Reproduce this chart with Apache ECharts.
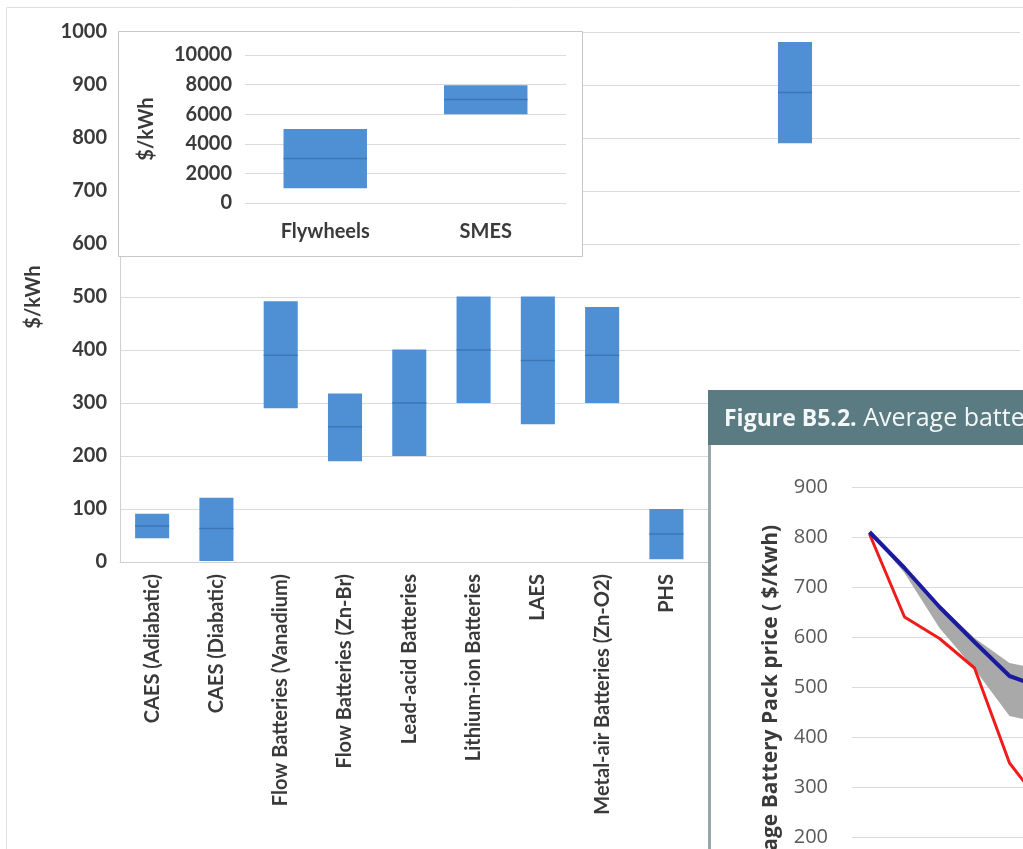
<!DOCTYPE html>
<html>
<head>
<meta charset="utf-8">
<title>Storage cost ranges</title>
<script src="https://cdn.jsdelivr.net/npm/echarts@6/dist/echarts.min.js"></script>
<style>
  html, body { margin: 0; padding: 0; background: #fff; }
  #chart { width: 1023px; height: 849px; }
</style>
</head>
<body>
<div id="chart"></div>
<script>
// main chart: capital cost ranges ($/kWh), last slots are hidden behind the overlaid figure
const storageTypes = [
  'CAES (Adiabatic)', 'CAES (Diabatic)', 'Flow Batteries (Vanadium)', 'Flow Batteries (Zn-Br)',
  'Lead-acid Batteries', 'Lithium-ion Batteries', 'LAES', 'Metal-air Batteries (Zn-O2)', 'PHS',
  '', '', '', '', ''
]
const costLow = [45, 2, 290, 190, 200, 300, 260, 300, 5, null, 790, null, null, null]
const costHigh = [91, 121, 492, 318, 401, 501, 501, 481, 100, null, 981, null, null, null]
const costMid = [68, 63, 390, 255, 300, 400, 380, 390, 53, null, 886, null, null, null]
const costTicks = [0, 100, 200, 300, 400, 500, 600, 700, 800, 900, 1000]

// inset
const insetTypes = ['Flywheels', 'SMES']
const insetLow = [1000, 6000]
const insetHigh = [5000, 7950]
const insetMid = [3000, 7000]
const insetTicks = [0, 2000, 4000, 6000, 8000, 10000]

// Figure B5.2 (partly visible)
const years = ['2010', '2011', '2012', '2013', '2014', '2015']
const packPrice = [810, 738, 660, 590, 522, 497]
const packActual = [806, 640, 597, 538, 348, 258]
const bandLow = [810, 728, 618, 536, 442, 426]
const bandHigh = [810, 738, 664, 598, 548, 534]
const priceTicks = [0, 100, 200, 300, 400, 500, 600, 700, 800, 900]

const barColor = '#4f90d5'
const midColor = '#3c77b5'
const textColor = '#3a3a3a'

function rangeBar(ratio) {
  return function(params, api) {
    const idx = api.value(0)
    const top = api.coord([idx, api.value(2)])
    const bottom = api.coord([idx, api.value(1)])
    const mid = api.coord([idx, api.value(3)])
    const w = api.size([1, 0])[0] * ratio
    return {
      type: 'group',
      children: [{
        type: 'rect',
        shape: { x: top[0] - w / 2, y: top[1], width: w, height: bottom[1] - top[1] },
        style: { fill: barColor }
      }, {
        type: 'line',
        shape: { x1: top[0] - w / 2, y1: mid[1], x2: top[0] + w / 2, y2: mid[1] },
        style: { stroke: midColor, lineWidth: 1.5 }
      }]
    }
  }
}

function rangeData(low, high, mid) {
  const out = []
  low.forEach((v, i) => {
    if (v !== null) out.push([i, v, high[i], mid[i]])
  })
  return out
}

const plain = v => String(v)
const labelFont = { fontFamily: 'Lato', fontWeight: 'bold', fontSize: 20, color: textColor }
const panelFont = { fontFamily: 'Open Sans', fontSize: 20, color: '#595959' }

const chart = echarts.init(document.getElementById('chart'))

chart.setOption({
  animation: false,
  backgroundColor: '#fff',
  grid: [
    { left: 120, top: 32, width: 900, height: 530, outerBoundsMode: 'none' },
    { left: 245, top: 55, width: 321, height: 148, outerBoundsMode: 'none' },
    { left: 852, top: 487, width: 35 * years.length, height: 450, outerBoundsMode: 'none' }
  ],
  xAxis: [{
    type: 'category',
    gridIndex: 0,
    data: storageTypes,
    axisLine: { lineStyle: { color: '#d0d0d0' } },
    axisTick: { show: false },
    axisLabel: Object.assign({ rotate: 90, interval: 0, margin: 12 }, labelFont)
  }, {
    type: 'category',
    gridIndex: 1,
    data: insetTypes,
    z: 6,
    axisLine: { show: false },
    axisTick: { show: false },
    axisLabel: Object.assign({ margin: 19 }, labelFont)
  }, {
    type: 'category',
    gridIndex: 2,
    data: years,
    z: 25,
    axisLine: { lineStyle: { color: '#bfbfbf' } },
    axisTick: { show: false },
    axisLabel: panelFont
  }],
  yAxis: [{
    type: 'value',
    gridIndex: 0,
    min: costTicks[0],
    max: costTicks[costTicks.length - 1],
    interval: 100,
    name: '$/kWh',
    nameLocation: 'middle',
    nameGap: 76,
    nameTextStyle: labelFont,
    axisLine: { show: true, lineStyle: { color: '#d0d0d0' } },
    axisTick: { show: false },
    axisLabel: Object.assign({ margin: 13, formatter: plain }, labelFont),
    splitLine: { lineStyle: { color: '#dadada' } }
  }, {
    type: 'value',
    gridIndex: 1,
    min: insetTicks[0],
    max: insetTicks[insetTicks.length - 1],
    interval: 2000,
    z: 6,
    name: '$/kWh',
    nameLocation: 'middle',
    nameGap: 88,
    nameTextStyle: labelFont,
    axisLine: { show: false },
    axisTick: { show: false },
    axisLabel: Object.assign({ margin: 13, formatter: plain }, labelFont),
    splitLine: { lineStyle: { color: '#dadada' } }
  }, {
    type: 'value',
    gridIndex: 2,
    min: priceTicks[0],
    max: priceTicks[priceTicks.length - 1],
    interval: 100,
    z: 25,
    name: 'Average Battery Pack price ( $/Kwh)',
    nameLocation: 'middle',
    nameGap: 70,
    nameTextStyle: { fontFamily: 'Open Sans', fontWeight: 'bold', fontSize: 21, color: '#3a3a3a' },
    axisLine: { show: false },
    axisTick: { show: false },
    axisLabel: Object.assign({ margin: 24, formatter: plain }, panelFont),
    splitLine: { lineStyle: { color: '#dadada' } }
  }],
  graphic: [
    // outer frame of the main chart
    { type: 'rect', z: 0, shape: { x: 6.5, y: 7.5, width: 1100, height: 1000 }, style: { fill: 'none', stroke: '#e0e0e0' } },
    // inset box
    { type: 'rect', z: 5, shape: { x: 118.5, y: 31.5, width: 464, height: 225 }, style: { fill: '#fff', stroke: '#c8c8c8' } },
    // overlaid figure panel
    { type: 'rect', z: 20, shape: { x: 708, y: 445, width: 330, height: 420 }, style: { fill: '#fff' } },
    { type: 'rect', z: 21, shape: { x: 708, y: 445, width: 3, height: 420 }, style: { fill: '#9aa6a9' } },
    { type: 'rect', z: 21, shape: { x: 708, y: 390, width: 330, height: 55 }, style: { fill: '#5a7b81' } },
    {
      type: 'text',
      z: 22,
      x: 724,
      y: 419,
      style: {
        text: '{b|Figure B5.2.} Average batte',
        fill: '#f4f7f8',
        fontFamily: 'Open Sans',
        fontSize: 25,
        verticalAlign: 'middle',
        rich: { b: { fontFamily: 'Open Sans', fontWeight: 'bold', fontSize: 23, fill: '#f4f7f8' } }
      }
    }
  ],
  series: [{
    type: 'custom',
    xAxisIndex: 0,
    yAxisIndex: 0,
    renderItem: rangeBar(0.53),
    encode: { x: 0, y: [1, 2, 3] },
    data: rangeData(costLow, costHigh, costMid),
    z: 2
  }, {
    type: 'custom',
    xAxisIndex: 1,
    yAxisIndex: 1,
    renderItem: rangeBar(0.52),
    encode: { x: 0, y: [1, 2, 3] },
    data: rangeData(insetLow, insetHigh, insetMid),
    z: 7
  }, {
    type: 'line',
    xAxisIndex: 2,
    yAxisIndex: 2,
    stack: 'band',
    data: bandLow,
    symbol: 'none',
    lineStyle: { opacity: 0 },
    z: 26
  }, {
    type: 'line',
    xAxisIndex: 2,
    yAxisIndex: 2,
    stack: 'band',
    data: bandHigh.map((v, i) => v - bandLow[i]),
    symbol: 'none',
    lineStyle: { opacity: 0 },
    areaStyle: { color: '#a9a9a9', opacity: 1 },
    z: 26
  }, {
    type: 'line',
    xAxisIndex: 2,
    yAxisIndex: 2,
    data: packActual,
    symbol: 'none',
    lineStyle: { color: '#f01c1c', width: 3 },
    z: 27
  }, {
    type: 'line',
    xAxisIndex: 2,
    yAxisIndex: 2,
    data: packPrice,
    symbol: 'none',
    lineStyle: { color: '#1a1a9e', width: 4 },
    z: 28
  }]
})

window.addEventListener('resize', () => chart.resize())
</script>
</body>
</html>
